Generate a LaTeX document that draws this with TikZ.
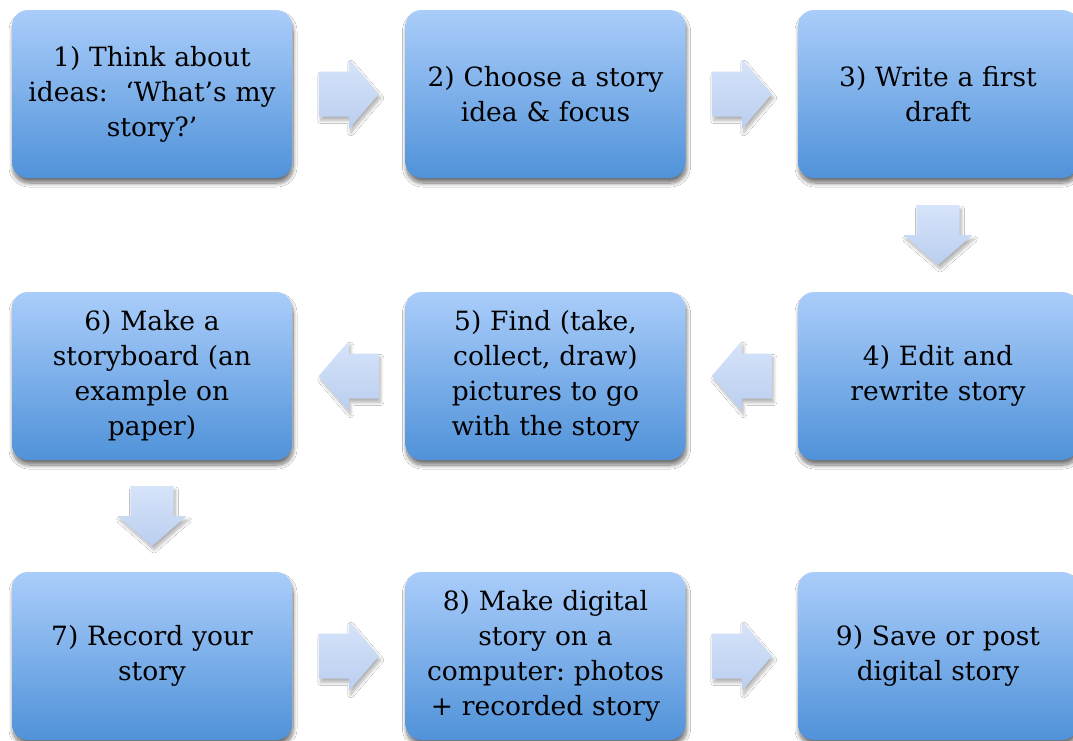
\documentclass[tikz,border=0pt]{standalone}
\usepackage{fontspec}
\setmainfont{DejaVu Serif}
\usetikzlibrary{shadows.blur,calc}
\definecolor{boxtop}{RGB}{170,205,250}
\definecolor{boxbot}{RGB}{80,146,217}
\definecolor{arrtop}{RGB}{214,228,250}
\definecolor{arrbot}{RGB}{186,206,239}
\tikzset{
  stepbox/.style={rectangle, rounded corners=16pt, minimum width=280pt, minimum height=168pt,
    top color=boxtop, bottom color=boxbot, draw=none, align=center, text width=270pt,
    font=\fontsize{26.5}{35}\selectfont,
    blur shadow={shadow xshift=1pt, shadow yshift=-5pt, shadow blur radius=4pt, shadow blur steps=12, shadow opacity=55}},
  blockarrow/.style={top color=arrtop, bottom color=arrbot, draw=none,
    blur shadow={shadow xshift=2pt, shadow yshift=-4pt, shadow blur radius=3pt, shadow blur steps=10, shadow opacity=30}},
  rarrow/.pic={\path[blockarrow] (-30,-22.5) -- (0,-22.5) -- (0,-35) -- (30,0) -- (0,35) -- (0,22.5) -- (-30,22.5) -- cycle;},
  larrow/.pic={\path[blockarrow] (30,-22.5) -- (0,-22.5) -- (0,-35) -- (-30,0) -- (0,35) -- (0,22.5) -- (30,22.5) -- cycle;},
  darrow/.pic={\path[blockarrow] (-21.5,-30) -- (21.5,-30) -- (21.5,0) -- (34.5,0) -- (0,30) -- (-34.5,0) -- (-21.5,0) -- cycle;}
}
\begin{document}
\frenchspacing
\begin{tikzpicture}[x=1pt,y=-1pt]
\useasboundingbox (0,0) rectangle (1073,740);
\fill[white] (0,0) rectangle (1073,740);
\node[stepbox] (b1) at (152,94) {1) Think about\\ideas:\ \ ‘What’s my\\story?’};
\node[stepbox] (b2) at (545.5,94) {2) Choose a story\\idea \& focus};
\node[stepbox] (b3) at (938,94) {3) Write a first\\draft};
\node[stepbox] (b4) at (938,376) {4) Edit and\\rewrite story};
\node[stepbox] (b5) at (545.5,376) {5) Find (take,\\collect, draw)\\pictures to go\\with the story};
\node[stepbox] (b6) at (152,376) {6) Make a\\storyboard (an\\example on\\paper)};
\node[stepbox] (b7) at (152,656) {7) Record your\\story};
\node[stepbox] (b8) at (545.5,656) {8) Make digital\\story on a\\computer: photos\\+ recorded story};
\node[stepbox] (b9) at (938,656) {9) Save or post\\digital story};
\pic at ($(b1.east)!0.5!(b2.west)$) {rarrow};
\pic at ($(b2.east)!0.5!(b3.west)$) {rarrow};
\pic at ($(b3.south)!0.5!(b4.north)$) {darrow};
\pic at ($(b4.west)!0.5!(b5.east)$) {larrow};
\pic at ($(b5.west)!0.5!(b6.east)$) {larrow};
\pic at ($(b6.south)!0.5!(b7.north)$) {darrow};
\pic at ($(b7.east)!0.5!(b8.west)$) {rarrow};
\pic at ($(b8.east)!0.5!(b9.west)$) {rarrow};
\end{tikzpicture}
\end{document}
